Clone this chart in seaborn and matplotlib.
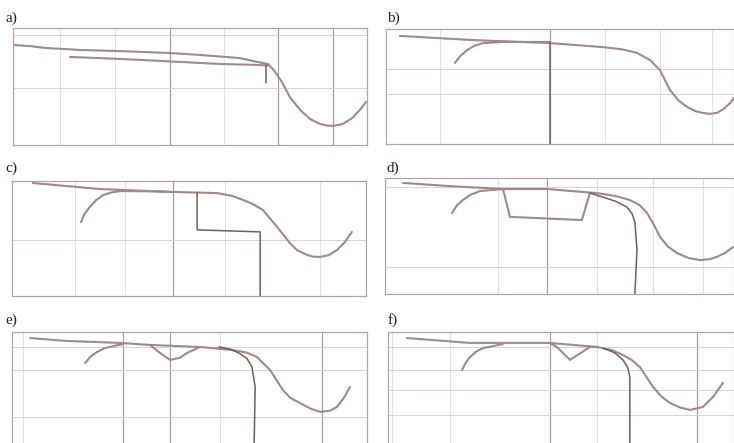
import numpy as np
import pandas as pd
import seaborn as sns
import matplotlib
matplotlib.use("Agg")
import matplotlib.pyplot as plt

sns.set_style("white")
plt.rcParams['font.family'] = ['Liberation Serif', 'DejaVu Serif']

# ---------------- data (x: normalized log-frequency 0..10, y: magnitude in dB) ---------------
# panel a
a_main_x = [0, 0.48, 0.90, 1.89, 3.02, 4.35, 5.28, 6.41, 6.98, 7.20, 7.37, 7.60, 7.82, 8.11, 8.39, 8.67, 8.85, 9.04, 9.32, 9.58, 9.80, 9.97]
a_main_y = [-5.8, -6.2, -6.8, -7.5, -7.9, -8.5, -9.2, -10.3, -11.8, -12.3, -14.4, -18.5, -23.6, -28.0, -31.1, -32.8, -33.3, -33.5, -32.8, -30.8, -28.0, -25.3]
a_sec_x = [1.61, 2.46, 3.59, 4.72, 5.85, 6.84, 7.20]
a_sec_y = [-9.9, -10.3, -10.9, -11.6, -12.3, -12.6, -12.8]
a_tick_x = [7.15, 7.15]
a_tick_y = [-12.6, -18.8]

# panel b
b_main_x = [0.40, 2.41, 4.71, 6.24, 6.80, 7.21, 7.59, 7.87, 8.16, 8.40, 8.65, 8.90, 9.11, 9.30, 9.51, 9.70, 9.89, 10.0]
b_main_y = [-2.4, -3.8, -4.9, -6.3, -7.1, -8.3, -10.8, -14.3, -21.2, -24.8, -27.1, -28.6, -29.2, -29.5, -29.2, -27.8, -25.7, -24.0]
b_sec_x = [1.98, 2.12, 2.33, 2.55, 2.79, 3.36, 4.71]
b_sec_y = [-11.8, -9.6, -7.3, -5.8, -4.9, -4.5, -4.5]
b_drop_x = [4.71, 4.71]
b_drop_y = [-4.5, -40.0]

# panel c
c_main_x = [0.59, 2.49, 4.55, 5.79, 6.20, 6.53, 6.80, 7.09, 7.49, 7.85, 8.05, 8.33, 8.50, 8.70, 8.95, 9.18, 9.40, 9.60]
c_main_y = [-0.7, -2.8, -3.8, -4.2, -5.1, -6.6, -8.0, -10.1, -16.0, -21.6, -24.0, -25.7, -26.3, -26.4, -25.8, -24.0, -21.3, -17.7]
c_sec_x = [1.95, 2.05, 2.20, 2.37, 2.57, 2.80, 3.05, 3.90, 4.55]
c_sec_y = [-14.3, -11.4, -9.0, -6.7, -4.9, -4.0, -3.5, -3.6, -3.8]
c_step_x = [5.23, 5.23, 7.01, 7.01]
c_step_y = [-4.0, -17.0, -17.7, -40.0]

# panel d
d_main_x = [0.52, 1.86, 3.38, 4.64, 6.07, 6.60, 7.02, 7.30, 7.51, 7.70, 7.88, 8.10, 8.37, 8.70, 9.03, 9.30, 9.51, 9.75, 9.97]
d_main_y = [-1.7, -2.8, -3.8, -3.8, -5.2, -6.2, -7.6, -9.4, -12.1, -16.0, -20.3, -23.6, -25.9, -27.6, -28.3, -28.0, -27.2, -25.8, -23.8]
d_sec_x = [1.92, 2.05, 2.23, 2.45, 2.72, 3.38]
d_sec_y = [-12.1, -9.6, -7.6, -5.8, -4.5, -3.8]
d_notch_x = [3.38, 3.58, 5.64, 5.87]
d_notch_y = [-3.8, -13.4, -14.5, -5.2]
d_drop_x = [5.87, 6.25, 6.60, 6.93, 7.08, 7.16, 7.22, 7.16]
d_drop_y = [-5.2, -6.6, -8.0, -10.0, -12.3, -15.2, -24.8, -40.0]

# panel e
e_main_x = [0.51, 1.52, 3.04, 3.89, 5.30, 6.23, 6.60, 6.90, 7.27, 7.63, 7.85, 8.11, 8.40, 8.68, 8.95, 9.15, 9.35, 9.52]
e_main_y = [-2.1, -3.1, -3.8, -4.5, -5.2, -6.3, -7.1, -8.7, -13.2, -20.2, -23.0, -24.7, -26.6, -27.8, -27.4, -26.1, -22.9, -19.1]
e_sec_x = [2.06, 2.20, 2.39, 2.60, 2.85, 3.13]
e_sec_y = [-10.8, -8.7, -7.0, -5.7, -4.9, -4.2]
e_dip_x = [3.89, 4.17, 4.45, 4.73, 4.93, 5.30]
e_dip_y = [-4.5, -7.3, -9.7, -9.0, -7.3, -5.2]
e_drop_x = [5.83, 6.15, 6.39, 6.62, 6.76, 6.85, 6.82]
e_drop_y = [-5.2, -6.0, -7.3, -9.2, -12.2, -19.1, -40.0]

# panel f
f_main_x = [0.55, 2.37, 4.68, 6.04, 6.45, 6.79, 7.05, 7.28, 7.66, 7.90, 8.15, 8.45, 8.73, 9.10, 9.40, 9.68]
f_main_y = [-2.1, -3.8, -3.8, -5.2, -6.2, -8.0, -9.8, -12.2, -19.1, -22.4, -24.7, -26.3, -27.1, -26.1, -22.5, -17.7]
f_sec_x = [2.14, 2.24, 2.37, 2.55, 2.75, 3.32]
f_sec_y = [-13.2, -10.8, -8.7, -6.8, -5.6, -4.2]
f_notch_x = [4.68, 4.88, 5.26, 5.84, 6.04]
f_notch_y = [-3.8, -5.2, -9.7, -5.2, -5.2]
f_drop_x = [6.21, 6.55, 6.79, 6.93, 6.99, 6.99]
f_drop_y = [-5.6, -7.2, -9.7, -12.4, -15.7, -40.0]

panel_labels = ["a)", "b)", "c)", "d)", "e)", "f)"]

# grid lines per panel: (light verticals, dark verticals, horizontals)
grid_v_light = [[1.33, 2.88, 5.96], [1.55, 6.29, 7.87, 9.37], [1.78, 3.19, 6.02, 8.70],
                [3.24, 6.07, 7.68, 9.11], [0.31, 5.86], [0.12, 1.79, 6.04]]
grid_v_dark = [[4.44, 7.49, 9.04], [4.71], [4.55], [4.64], [3.13, 4.45, 8.73], [4.68, 8.93]]
grid_h = [[-2.4, -20.5], [-13.9, -22.6], [-20.5], [-3.1, -30.7], [-5.2, -13.2, -29.6],
          [-5.2, -13.2, -20.2, -28.9]]

# ---------------- layout (pixel boxes: left, top, right, bottom) ----------------
W, H = 734, 443
boxes = [(13, 28, 367, 145), (386, 29, 734, 144), (12, 181, 366, 296),
         (385, 178, 734, 294), (12, 332, 367, 447), (388, 332, 734, 447)]
label_pos = [(5, 18), (387, 18), (5, 168), (387, 168), (5, 320), (388, 320)]

panels = [
    [(a_main_x, a_main_y, "m"), (a_sec_x, a_sec_y, "m"), (a_tick_x, a_tick_y, "d")],
    [(b_main_x, b_main_y, "m"), (b_sec_x, b_sec_y, "m"), (b_drop_x, b_drop_y, "d")],
    [(c_main_x, c_main_y, "m"), (c_sec_x, c_sec_y, "m"), (c_step_x, c_step_y, "d")],
    [(d_main_x, d_main_y, "m"), (d_sec_x, d_sec_y, "m"), (d_notch_x, d_notch_y, "m"), (d_drop_x, d_drop_y, "d")],
    [(e_main_x, e_main_y, "m"), (e_sec_x, e_sec_y, "m"), (e_dip_x, e_dip_y, "m"), (e_drop_x, e_drop_y, "d")],
    [(f_main_x, f_main_y, "m"), (f_sec_x, f_sec_y, "m"), (f_notch_x, f_notch_y, "m"), (f_drop_x, f_drop_y, "d")],
]

fig = plt.figure(figsize=(W / 100, H / 100), dpi=100)
fig.patch.set_facecolor("white")

curve_col = "#9c8b88"
drop_col = "#6e5f5c"
frame_col = "#b3a3a3"

for i, (l, t, r, b) in enumerate(boxes):
    ax = fig.add_axes([l / W, 1 - b / H, (r - l) / W, (b - t) / H])
    ax.set_facecolor("white")
    for x in grid_v_light[i]:
        ax.axvline(x, color="#e2d8d8", lw=0.6, zorder=0)
    for x in grid_v_dark[i]:
        ax.axvline(x, color="#ad9e9e", lw=0.9, zorder=0)
    for y in grid_h[i]:
        ax.axhline(y, color="#ddd0d0", lw=0.7, zorder=0)
    for xs, ys, kind in panels[i]:
        df = pd.DataFrame({"x": xs, "y": ys})
        sns.lineplot(data=df, x="x", y="y", sort=False, estimator=None, ax=ax,
                     color=curve_col if kind == "m" else drop_col,
                     lw=1.5 if kind == "m" else 1.1, legend=False)
    ax.set_xlim(0, 10)
    ax.set_ylim(-40, 0)
    ax.set_xticks([])
    ax.set_yticks([])
    ax.set_xlabel("")
    ax.set_ylabel("")
    for s in ax.spines.values():
        s.set_color(frame_col)
        s.set_linewidth(0.9)
    lx, ly = label_pos[i]
    fig.text(lx / W, 1 - ly / H, panel_labels[i], fontsize=11, va="center", ha="left",
             color="#222222")

fig.savefig("out.png", dpi=100, facecolor="white")
